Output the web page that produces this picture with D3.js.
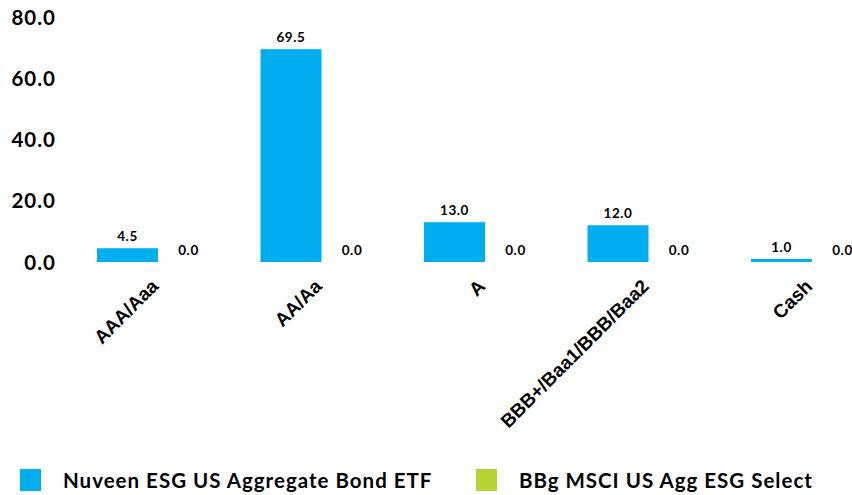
<!DOCTYPE html>
<html><head><meta charset="utf-8">
<script src="https://cdn.jsdelivr.net/npm/d3@7"></script>
<style>body{margin:0;background:#fff}svg{display:block}</style>
</head><body>
<script>
const categories = ["AAA/Aaa","AA/Aa","A","BBB+/Baa1/BBB/Baa2","Cash"];
const seriesNames = ["Nuveen ESG US Aggregate Bond ETF","BBg MSCI US Agg ESG Select"];
const fundValues = [4.5, 69.5, 13.0, 12.0, 1.0];
const indexValues = [0.0, 0.0, 0.0, 0.0, 0.0];
const yTicks = [0, 20, 40, 60, 80];
const colors = ["#00AEEF", "#B5D334"];

const W = 852, H = 495;
const svg = d3.select("body").append("svg").attr("width", W).attr("height", H);
const font = "Lato, 'Open Sans', sans-serif";

const y = d3.scaleLinear().domain([0, 80]).range([262, 17]);
const x0 = d3.scaleBand().domain(categories).range([97, 873]).paddingInner(0.254).paddingOuter(0);
const x1 = d3.scaleBand().domain([0, 1]).range([0, x0.bandwidth()]).padding(0);

const yAxis = d3.axisLeft(y).tickValues(yTicks).tickFormat(d3.format(".1f")).tickSize(0).tickPadding(0);
const ga = svg.append("g").attr("transform", "translate(56,0)").call(yAxis);
ga.select(".domain").remove();
ga.selectAll("text").attr("font-family", font).attr("font-weight", "bold").attr("font-size", 20.5)
  .attr("letter-spacing", 1).attr("fill", "#000").attr("dy", "0.35em");

const data = categories.map((c, i) => ({c, vals: [fundValues[i], indexValues[i]]}));
const groups = svg.append("g").selectAll("g").data(data).join("g")
  .attr("transform", d => `translate(${x0(d.c)},0)`);

groups.selectAll("rect").data(d => d.vals.map((v, k) => ({v, k}))).join("rect")
  .attr("x", d => x1(d.k)).attr("width", x1.bandwidth())
  .attr("y", d => y(d.v)).attr("height", d => y(0) - y(d.v))
  .attr("fill", d => colors[d.k]);

groups.selectAll("text.val").data(d => d.vals.map((v, k) => ({v, k}))).join("text")
  .attr("class", "val")
  .attr("x", d => x1(d.k) + x1.bandwidth() / 2)
  .attr("y", d => y(d.v) - 7)
  .attr("text-anchor", "middle")
  .attr("font-family", font).attr("font-weight", "bold").attr("font-size", 13.5).attr("letter-spacing", 0.6).attr("fill", "#000")
  .text(d => d3.format(".1f")(d.v));

// x labels
svg.append("g").selectAll("text").data(categories).join("text")
  .attr("transform", d => `translate(${x0(d) + x0.bandwidth() / 2 - 8},${278}) rotate(-45)`)
  .attr("text-anchor", "end").attr("dy", "0.7em")
  .attr("font-family", "'Liberation Sans', Arial, sans-serif").attr("font-weight", "bold").attr("font-size", 19).attr("fill", "#000")
  .text(d => d);

// legend
const legX = [20, 476];
const lg = svg.append("g").selectAll("g").data(seriesNames).join("g")
  .attr("transform", (d, i) => `translate(${legX[i]},469)`);
lg.append("rect").attr("width", 21).attr("height", 22).attr("fill", (d, i) => colors[i]);
lg.append("text").attr("x", 43).attr("y", 12).attr("dy", "0.35em")
  .attr("font-family", font).attr("font-weight", "bold").attr("font-size", 20.5).attr("letter-spacing", 1).attr("fill", "#000")
  .text(d => d);
</script>
</body></html>
